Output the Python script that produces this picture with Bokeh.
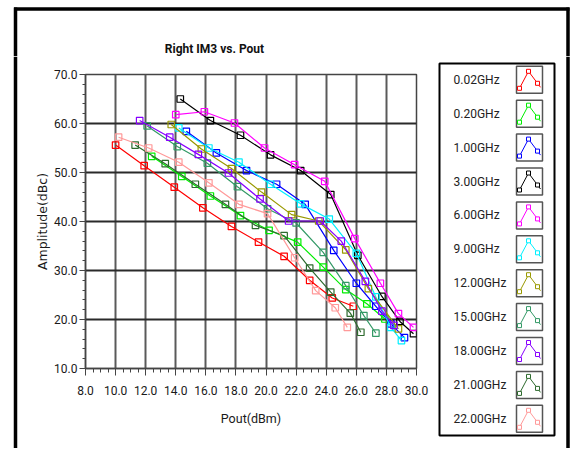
from bokeh.plotting import figure
from bokeh.layouts import column, row
from bokeh.models import Range1d, SingleIntervalTicker, PrintfTickFormatter
from bokeh.core.properties import value
from bokeh.embed import file_html
from bokeh.resources import INLINE

# ---------------- data ----------------
freq_labels = ["0.02GHz", "0.20GHz", "1.00GHz", "3.00GHz", "6.00GHz", "9.00GHz",
               "12.00GHz", "15.00GHz", "18.00GHz", "21.00GHz", "22.00GHz"]
colors = ["#FF0000", "#00EE00", "#0000FF", "#000000", "#FF00FF", "#00F0FF",
          "#999900", "#339966", "#8800FF", "#2E6B2E", "#FF9999"]

pout_0_02 = [10.0, 11.9, 13.9, 15.8, 17.7, 19.5, 21.2, 22.9, 24.4, 25.8]
im3_0_02 = [55.6, 51.4, 47.0, 42.8, 39.0, 35.8, 32.9, 28.0, 24.4, 22.7]

pout_0_20 = [12.4, 14.4, 16.3, 18.3, 20.2, 22.1, 23.8, 25.3, 26.7, 27.9]
im3_0_20 = [53.3, 49.2, 45.2, 41.2, 38.2, 35.8, 30.7, 26.1, 23.2, 20.1]

pout_1_00 = [14.7, 16.7, 18.7, 20.7, 22.6, 24.5, 26.0, 27.3, 28.3, 29.2]
im3_1_00 = [58.4, 54.0, 50.4, 47.6, 43.5, 34.1, 27.4, 22.7, 19.1, 16.3]

pout_3_00 = [14.3, 16.3, 18.3, 20.3, 22.3, 24.3, 26.1, 27.7, 28.9, 29.8]
im3_3_00 = [65.0, 60.6, 57.6, 53.6, 50.4, 45.5, 33.1, 24.7, 19.6, 17.1]

pout_6_00 = [14.0, 15.9, 17.9, 19.9, 21.9, 23.9, 25.9, 27.6, 28.8, 29.8]
im3_6_00 = [61.8, 62.4, 60.1, 55.0, 51.6, 48.2, 36.5, 27.4, 21.2, 18.4]

pout_9_00 = [14.2, 16.2, 18.2, 20.3, 22.3, 24.2, 26.0, 27.3, 28.3, 29.0]
im3_9_00 = [59.1, 55.0, 52.1, 47.6, 43.6, 40.5, 33.5, 24.6, 18.4, 15.7]

pout_12_00 = [13.7, 15.7, 17.7, 19.7, 21.7, 23.5, 25.3, 26.8, 28.8]
im3_12_00 = [59.8, 54.8, 50.8, 46.0, 41.4, 40.1, 34.2, 26.3, 18.1]

pout_15_00 = [12.1, 14.1, 16.1, 18.1, 20.1, 22.0, 23.8, 25.3, 26.5, 27.3]
im3_15_00 = [59.5, 55.3, 51.9, 47.1, 42.6, 39.7, 33.7, 26.9, 20.8, 17.2]

pout_18_00 = [11.6, 13.6, 15.5, 17.5, 19.6, 21.5, 23.6, 25.0, 26.6, 27.7, 28.5]
im3_18_00 = [60.6, 57.2, 53.7, 49.9, 44.6, 40.1, 40.1, 36.0, 27.8, 21.7, 18.8]

pout_21_00 = [11.3, 13.3, 15.3, 17.3, 19.3, 21.2, 22.9, 24.3, 25.6, 26.3]
im3_21_00 = [55.6, 51.8, 47.6, 43.5, 39.2, 37.1, 30.5, 25.6, 21.3, 17.4]

pout_22_00 = [10.2, 12.2, 14.2, 16.2, 18.2, 20.1, 21.9, 23.3, 24.6, 25.4]
im3_22_00 = [57.2, 55.0, 52.1, 47.9, 43.5, 41.6, 32.6, 25.9, 22.4, 18.4]

pouts = [pout_0_02, pout_0_20, pout_1_00, pout_3_00, pout_6_00, pout_9_00,
         pout_12_00, pout_15_00, pout_18_00, pout_21_00, pout_22_00]
im3s = [im3_0_02, im3_0_20, im3_1_00, im3_3_00, im3_6_00, im3_9_00,
        im3_12_00, im3_15_00, im3_18_00, im3_21_00, im3_22_00]

title_text = "Right IM3 vs. Pout"
x_label = "Pout(dBm)"
y_label = "Amplitude(dBc)"

# ---------------- page geometry (page pixels) ----------------
PAGE_W, PAGE_H = 571, 448
TOP_H = 56            # height of the title strip
LEFT_W = 20           # width of the left border strip
LEG_X = 431           # x where the legend panel starts
BORDER_W = 3.5


def no_align(f):
    try:
        f.frame_align = False
    except Exception:
        pass


def pixel_fig(x0, x1, y0, y1):
    """A figure whose data coordinates are the page pixels it covers."""
    w, h = int(x1 - x0), int(y1 - y0)
    f = figure(width=w, height=h, frame_width=w, frame_height=h,
               output_backend="svg", toolbar_location=None,
               x_range=Range1d(x0, x1), y_range=Range1d(y1, y0),
               x_axis_type=None, y_axis_type=None,
               min_border=0, min_border_left=0, min_border_right=0,
               min_border_top=0, min_border_bottom=0, title=None)
    f.grid.visible = False
    f.outline_line_color = None
    f.background_fill_color = "white"
    f.border_fill_color = "white"
    no_align(f)
    return f


# ---- title strip ----
top = pixel_fig(0, PAGE_W, 0, TOP_H)
top.segment(x0=[13.5, 15, 567.5], y0=[8.5, 7, 7], x1=[569, 15, 567.5],
            y1=[8.5, TOP_H, TOP_H], line_color="black", line_width=BORDER_W)
top.text(x=[214], y=[48], text=[title_text], text_align="center",
         text_baseline="middle", text_font=value("Roboto"),
         text_font_style="bold", text_font_size="12px", text_color="#111111")

# ---- left border strip ----
left = pixel_fig(0, LEFT_W, TOP_H, PAGE_H)
left.segment(x0=[15], y0=[TOP_H], x1=[15], y1=[PAGE_H], line_color="black",
             line_width=BORDER_W)

# ---- main chart ----
PW = LEG_X - LEFT_W
PH = PAGE_H - TOP_H
FRAME_L, FRAME_R, FRAME_T, FRAME_B = 85, 416, 74, 368   # page pixels
p = figure(width=PW, height=PH, output_backend="svg", toolbar_location=None,
           x_range=Range1d(8, 30), y_range=Range1d(10, 70), title=None,
           min_border_left=FRAME_L - LEFT_W, min_border_right=LEG_X - FRAME_R,
           min_border_top=FRAME_T - TOP_H, min_border_bottom=PAGE_H - FRAME_B)
no_align(p)
p.background_fill_color = "white"
p.border_fill_color = "white"
p.outline_line_color = "#444444"
p.outline_line_width = 1.5

p.xaxis.ticker = SingleIntervalTicker(interval=2, num_minor_ticks=4)
p.yaxis.ticker = SingleIntervalTicker(interval=10, num_minor_ticks=5)
for ax in (p.xaxis, p.yaxis):
    ax.formatter = PrintfTickFormatter(format="%.1f")
    ax.axis_line_color = "#444444"
    ax.axis_line_width = 1.5
    ax.major_tick_line_color = "#444444"
    ax.minor_tick_line_color = "#444444"
    ax.major_tick_in = 0
    ax.minor_tick_in = 0
    ax.major_label_text_font = "Roboto"
    ax.major_label_text_font_size = "12px"
    ax.major_label_text_color = "#1a1a1a"
    ax.axis_label_text_font_style = "normal"
    ax.axis_label_text_color = "#1a1a1a"

p.xaxis.major_tick_out = 7
p.xaxis.minor_tick_out = 4
p.xaxis.major_label_standoff = 10
p.xaxis.axis_label = x_label
p.xaxis.axis_label_text_font = "Roboto"
p.xaxis.axis_label_text_font_size = "12.5px"
p.xaxis.axis_label_standoff = 13

p.yaxis.major_tick_out = 6
p.yaxis.minor_tick_out = 3
p.yaxis.major_label_standoff = 2
p.yaxis.axis_label = y_label
p.yaxis.axis_label_text_font = "DejaVu Sans"
p.yaxis.axis_label_text_font_size = "12.5px"
p.yaxis.axis_label_standoff = 1

p.xgrid.grid_line_color = "#5a5a5a"
p.xgrid.grid_line_width = 2
p.ygrid.grid_line_color = "#2a2a2a"
p.ygrid.grid_line_width = 2

for xs, ys, c in zip(pouts, im3s, colors):
    p.line(xs, ys, line_color=c, line_width=1.2)
    p.scatter(xs, ys, marker="square", size=6.5, line_color=c,
              fill_color=None, line_width=1.2)

# ---- legend panel (right) ----
leg = pixel_fig(LEG_X, PAGE_W, TOP_H, PAGE_H)
leg.segment(x0=[567.5], y0=[TOP_H], x1=[567.5], y1=[PAGE_H], line_color="black",
            line_width=BORDER_W)
leg.quad(left=[439], right=[554], top=[63], bottom=[435], fill_color="white",
         line_color="black", line_width=2)

row_y = [79.3 + 33.9 * i for i in range(len(freq_labels))]
leg.text(x=[453] * len(freq_labels), y=row_y, text=freq_labels,
         text_align="left", text_baseline="middle", text_font=value("Roboto"),
         text_font_size="12px", text_color="#222222")

ICON_L, ICON_W, ICON_H = 516, 26, 27
leg.quad(left=[ICON_L] * len(row_y), right=[ICON_L + ICON_W] * len(row_y),
         top=[y - ICON_H / 2 for y in row_y], bottom=[y + ICON_H / 2 for y in row_y],
         fill_color="white", line_color="#555555", line_width=1.5)
icon_dx = [3, 12, 21, 24]
icon_dy = [8.5, -8.5, 3.5, 7.5]
for y, c in zip(row_y, colors):
    xs = [ICON_L + d for d in icon_dx]
    ys = [y + d for d in icon_dy]
    leg.line(xs, ys, line_color=c, line_width=1)
    leg.scatter(xs[:3], ys[:3], marker="square", size=4, line_color=c,
                fill_color="white", line_width=1)

mid = row(left, p, leg, spacing=0)
layout = column(top, mid, spacing=0)
for m in (mid, layout):
    try:
        m.align = "start"
    except Exception:
        pass
open("out.html", "w").write(file_html(layout, INLINE))
